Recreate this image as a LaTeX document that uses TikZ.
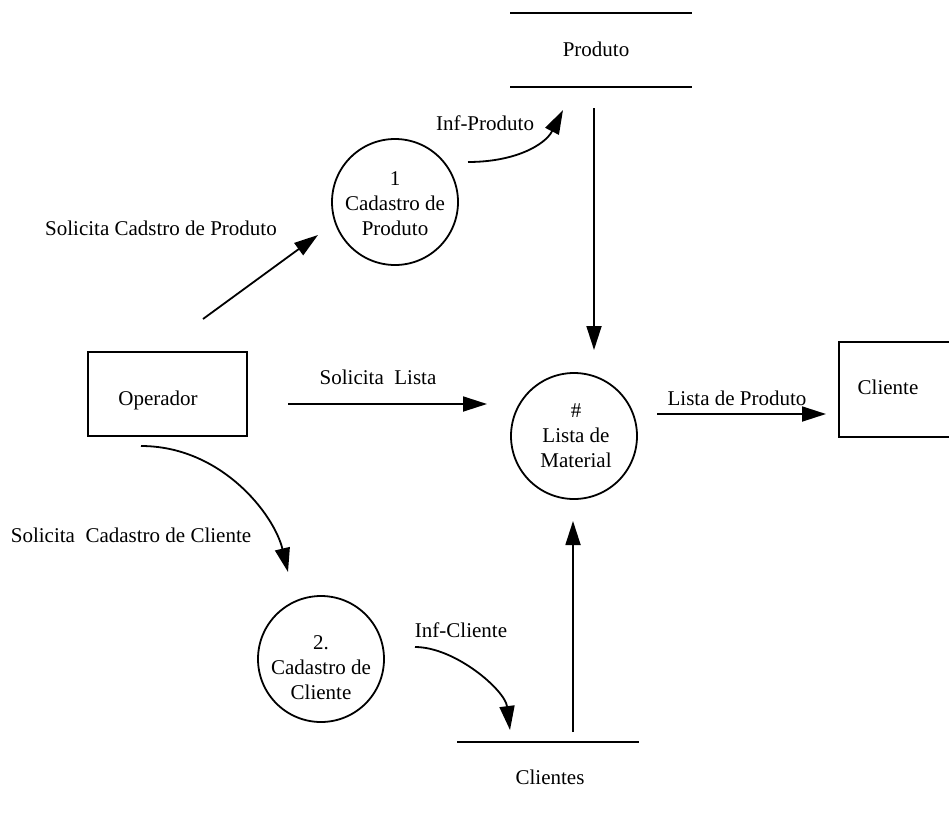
\documentclass[tikz,border=0pt]{standalone}
\usepackage{fontspec}
\setmainfont{Liberation Serif}
\usetikzlibrary{arrows.meta}
\begin{document}
\begin{tikzpicture}[x=1pt,y=-1pt,
  every node/.style={font=\fontsize{21}{25}\selectfont},
  flow/.style={line width=1.8pt, -{Triangle[length=24pt,width=15pt]}},
  proc/.style={draw, circle, line width=1.8pt, minimum size=126pt, inner sep=0pt},
  ptext/.style={align=center, inner sep=0pt},
  entity/.style={draw, rectangle, line width=1.8pt, inner sep=0pt},
  storeline/.style={line width=1.8pt},
  flowtext/.style={anchor=base, inner sep=0pt}]
\useasboundingbox (0,0) rectangle (949,814);
\clip (0,0) rectangle (949,814);

% data stores
\node[flowtext] (prodstore) at (596,56) {Produto};
\draw[storeline] (510,13) -- (692,13);
\draw[storeline] (510,87) -- (692,87);
\node[flowtext] (clistore) at (550,784) {Clientes};
\draw[storeline] (457,742) -- (639,742);

% processes
\node[proc] (p1) at (395,202) {};
\node[ptext] (p1text) at (395,204) {1\\Cadastro de\\Produto};
\node[proc] (plist) at (574,436) {};
\node[ptext] (plisttext) at (576,436) {\#\\Lista de\\Material};
\node[proc] (p2) at (321,659) {};
\node[ptext] (p2text) at (321,668) {2.\\Cadastro de\\Cliente};

% external entities
\node[entity, minimum width=159pt, minimum height=84pt] (op) at (167.5,394) {};
\node[flowtext] (optext) at (158,405) {Operador};
\node[entity, minimum width=140pt, minimum height=95pt, anchor=north west] (cli) at (838,341) {};
\node[flowtext] (clitext) at (888,394) {Cliente};

% connector end points
\coordinate (opUp) at (203,319);
\coordinate (p1In) at (318,235);
\coordinate (p1Out) at (468,162);
\coordinate (prodIn) at (563,110);
\coordinate (prodOut) at (594,108);
\coordinate (listTop) at (594,350);
\coordinate (opRight) at (288,404);
\coordinate (listLeft) at (487,404);
\coordinate (listRight) at (657,414);
\coordinate (cliIn) at (826,414);
\coordinate (opDown) at (141,446);
\coordinate (p2In) at (288,572);
\coordinate (p2Out) at (415,647);
\coordinate (cstoreIn) at (510,730);
\coordinate (cstoreOut) at (573,732);
\coordinate (listBottom) at (573,521);

% flows
\draw[flow] (opUp) -- (p1In);
\node[flowtext] (l1) at (161,235) {Solicita Cadstro de Produto};
\draw[flow] (p1Out) .. controls (515,162) and (545,145) .. (prodIn);
\node[flowtext] (l2) at (485,130) {Inf-Produto};
\draw[flow] (prodOut) -- (listTop);
\draw[flow] (opRight) -- (listLeft);
\node[flowtext] (l3) at (378,384) {Solicita\ \ Lista};
\draw[flow] (listRight) -- (cliIn);
\node[flowtext] (l4) at (737,405) {Lista de Produto};
\draw[flow] (opDown) .. controls (221,446) and (274,514) .. (p2In);
\node[flowtext] (l5) at (131,542) {Solicita\ \ Cadastro de Cliente};
\draw[flow] (p2Out) .. controls (455,647) and (505,690) .. (cstoreIn);
\node[flowtext] (l6) at (461,637) {Inf-Cliente};
\draw[flow] (cstoreOut) -- (listBottom);
\end{tikzpicture}
\end{document}
